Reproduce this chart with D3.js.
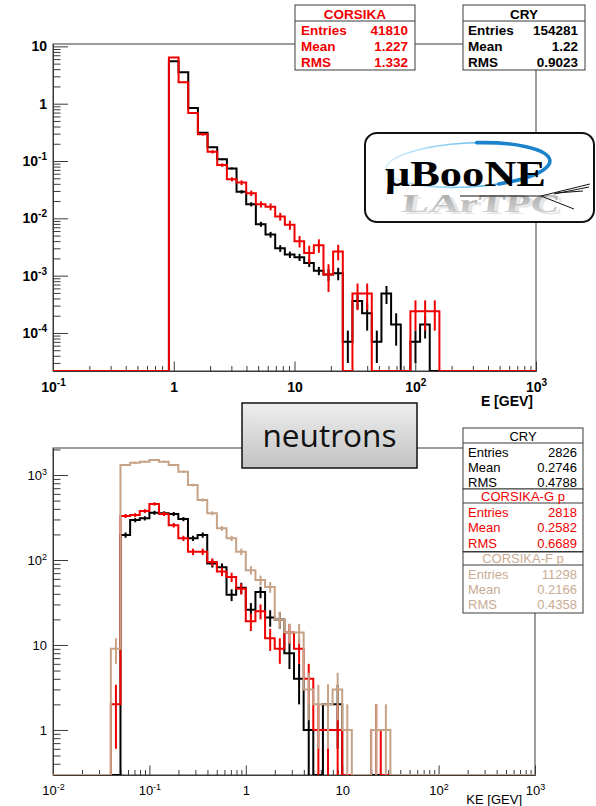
<!DOCTYPE html>
<html>
<head>
<meta charset="utf-8">
<script src="https://cdn.jsdelivr.net/npm/d3@7"></script>
<style>
  html, body { margin: 0; padding: 0; background: #fff; }
  svg { display: block; }
</style>
</head>
<body>
<svg id="chart" width="596" height="806"></svg>
<script>
// ---------------- data: muon energy (top panel) ----------------
// 50 log-spaced bins between 10^-1 and 10^3 GeV
const muonBins = [-1, 3, 50];
const muonCry = [
  0,0,0,0,0,0,0,0,0,0,0,0,
  5.5, 3.54, 0.84, 0.31, 0.174, 0.107, 0.074, 0.029, 0.0176, 0.0079,
  0.0052, 0.0030, 0.00233, 0.0021, 0.00167, 0.00122, 0.00105, 0.0011, 0.00007, 0.00036,
  0.00022, 0.00007, 0.00049, 0.00014, 0, 0.00007, 0.00014,
  0,0,0,0,0,0,0,0,0,0,0
];
const muonCryErr = [
  0,0,0,0,0,0,0,0,0,0,0,0,
  0.05, 0.04, 0.015, 0.007, 0.005, 0.004, 0.003, 0.002, 0.0015, 0.0008,
  0.0006, 0.0004, 0.0003, 0.0003, 0.00025, 0.0002, 0.00025, 0.00027, 0.00004, 0.0001,
  0.00011, 0.00004, 0.00017, 0.00008, 0, 0.00004, 0.00006,
  0,0,0,0,0,0,0,0,0,0,0
];
const muonCorsika = [
  0,0,0,0,0,0,0,0,0,0,0,0,
  6.4, 2.37, 0.687, 0.293, 0.145, 0.085, 0.048, 0.042, 0.0275, 0.0176,
  0.016, 0.0108, 0.0077, 0.0040, 0.00248, 0.0034, 0.00105, 0.00265, 0, 0.00049,
  0.00049, 0, 0, 0, 0, 0.00024, 0.00024, 0.00024,
  0,0,0,0,0,0,0,0,0,0
];
const muonCorsikaErr = [
  0,0,0,0,0,0,0,0,0,0,0,0,
  0.1, 0.06, 0.025, 0.015, 0.01, 0.006, 0.004, 0.004, 0.003, 0.0022,
  0.0022, 0.0017, 0.0014, 0.0009, 0.00085, 0.0009, 0.00053, 0.0008, 0, 0.00024,
  0.00024, 0, 0, 0, 0, 0.00013, 0.00013, 0.00013,
  0,0,0,0,0,0,0,0,0,0
];
const muonXTicks = [0.1, 1, 10, 100, 1000];
const muonXTickLabels = ["10^-1", "1", "10", "10^2", "10^3"];
const muonYTicks = [1e-4, 1e-3, 1e-2, 1e-1, 1, 10];
const muonYTickLabels = ["10^-4", "10^-3", "10^-2", "10^-1", "1", "10"];

// ---------------- data: neutron kinetic energy (bottom panel) ----------------
// 50 log-spaced bins between 10^-2 and 10^3 GeV
const neutronBins = [-2, 3, 50];
const neutronCry = [
  0,0,0,0,0,0,0,
  197, 295, 310, 360, 355, 348, 303, 180, 197, 91, 82, 39, 47, 26, 42, 21, 20, 8, 4, 1, 0, 2, 2,
  0,0,0,0,0,0,0,0,0,0,0,0,0,0,0,0,0,0,0,0
];
const neutronCryErr = [
  0,0,0,0,0,0,0,
  14, 17, 18, 19, 19, 19, 17, 13, 14, 9.5, 9, 6.2, 6.9, 5.1, 6.5, 4.6, 4.5, 2.8, 2, 1, 0, 1.4, 1.4,
  0,0,0,0,0,0,0,0,0,0,0,0,0,0,0,0,0,0,0,0
];
const neutronCorsikaG = [
  0,0,0,0,0,0,
  2, 330, 338, 377, 457, 348, 257, 180, 125, 125, 95, 73, 63, 46, 19, 25, 12, 9, 14, 9, 4, 1, 1, 1, 0, 0, 0, 1,
  0,0,0,0,0,0,0,0,0,0,0,0,0,0,0,0
];
const neutronCorsikaGErr = [
  0,0,0,0,0,0,
  1.4, 18, 18, 19, 21, 19, 16, 13, 11, 11, 9.7, 8.5, 7.9, 6.8, 4.4, 5, 3.5, 3, 3.7, 3, 2, 1, 1, 1, 0, 0, 0, 1,
  0,0,0,0,0,0,0,0,0,0,0,0,0,0,0,0
];
const neutronCorsikaF = [
  0,0,0,0,0,0,
  9, 1312, 1396, 1435, 1500, 1435, 1312, 1093, 762, 508, 355, 236, 180, 125, 76, 58, 48, 20, 14, 14, 3, 2, 2, 3, 1, 0, 0, 1, 1,
  0,0,0,0,0,0,0,0,0,0,0,0,0,0,0
];
const neutronCorsikaFErr = [
  0,0,0,0,0,0,
  3, 36, 37, 38, 39, 38, 36, 33, 28, 22, 19, 15, 13, 11, 8.7, 7.6, 6.9, 4.5, 3.7, 3.7, 1.7, 1.4, 1.4, 1.7, 1, 0, 0, 1, 1,
  0,0,0,0,0,0,0,0,0,0,0,0,0,0,0
];
const neutronXTicks = [0.01, 0.1, 1, 10, 100, 1000];
const neutronXTickLabels = ["10^-2", "10^-1", "1", "10", "10^2", "10^3"];
const neutronYTicks = [1, 10, 100, 1000];
const neutronYTickLabels = ["1", "10", "10^2", "10^3"];

// ---------------- statistics boxes ----------------
const statLabels = ["Entries", "Mean", "RMS"];
const muonCorsikaStats = ["41810", "1.227", "1.332"];
const muonCryStats = ["154281", "1.22", "0.9023"];
const neutronCryStats = ["2826", "0.2746", "0.4788"];
const neutronCorsikaGStats = ["2818", "0.2582", "0.6689"];
const neutronCorsikaFStats = ["11298", "0.2166", "0.4358"];

// ---------------- styling ----------------
const SANS = "'Liberation Sans', Arial, Helvetica, sans-serif";
const RED = "#f00000";
const TAN = "#c6a286";
const TAN_TEXT = "#c9ab93";

const svg = d3.select("#chart");
const defs = svg.append("defs");

function binEdges(spec) {
  const [lo, hi, n] = spec;
  return d3.range(n + 1).map(i => Math.pow(10, lo + (hi - lo) * i / n));
}

function minorTicks(domain) {
  const out = [];
  const a = Math.floor(Math.log10(domain[0])), b = Math.ceil(Math.log10(domain[1]));
  for (let e = a; e <= b; e++) {
    for (let m = 2; m <= 9; m++) {
      const v = m * Math.pow(10, e);
      if (v > domain[0] && v < domain[1]) out.push(v);
    }
  }
  return out;
}

function setSupLabels(sel, labels, supSize, supShift) {
  sel.selectAll(".tick text").each(function (d, i) {
    const t = d3.select(this);
    const parts = labels[i].split("^");
    t.text(null);
    t.append("tspan").text(parts[0]);
    if (parts[1]) t.append("tspan").attr("dy", -supShift).attr("font-size", supSize).text(parts[1]);
  });
}

function panel(cfg) {
  const g = svg.append("g");
  const x = d3.scaleLog().domain(cfg.xDomain).range([cfg.left, cfg.right]);
  const y = d3.scaleLog().domain(cfg.yDomain).range([cfg.bottom, cfg.top]);
  const ymin = cfg.yDomain[0];

  const clipId = "clip-" + cfg.id;
  defs.append("clipPath").attr("id", clipId)
    .append("rect").attr("x", cfg.left).attr("y", cfg.top - 1)
    .attr("width", cfg.right - cfg.left + 1).attr("height", cfg.bottom - cfg.top + 1);

  // frame
  g.append("rect").attr("x", cfg.left).attr("y", cfg.top)
    .attr("width", cfg.right - cfg.left).attr("height", cfg.bottom - cfg.top)
    .attr("fill", "none").attr("stroke", "#3a3a3a").attr("stroke-width", 1);

  // y axis: major + minor ticks pointing into the frame
  const yMajor = g.append("g").attr("transform", `translate(${cfg.left},0)`)
    .call(d3.axisLeft(y).tickValues(cfg.yTicks).tickSizeInner(-15).tickSizeOuter(0)
      .tickPadding(cfg.yPad).tickFormat((d, i) => cfg.yLabels[i]));
  const yMinor = g.append("g").attr("transform", `translate(${cfg.left},0)`)
    .call(d3.axisLeft(y).tickValues(minorTicks(cfg.yDomain)).tickSizeInner(-7.5).tickSizeOuter(0).tickFormat(""));
  // x axis
  const xMajor = g.append("g").attr("transform", `translate(0,${cfg.bottom})`)
    .call(d3.axisBottom(x).tickValues(cfg.xTicks).tickSizeInner(-9.5).tickSizeOuter(0)
      .tickFormat((d, i) => cfg.xLabels[i]));
  const xMinor = g.append("g").attr("transform", `translate(0,${cfg.bottom})`)
    .call(d3.axisBottom(x).tickValues(minorTicks(cfg.xDomain)).tickSizeInner(-5).tickSizeOuter(0).tickFormat(""));

  [yMajor, yMinor, xMajor, xMinor].forEach(a => {
    a.select(".domain").attr("stroke", "#3a3a3a");
    a.selectAll(".tick line").attr("stroke", "#3a3a3a").attr("stroke-width", 1);
    a.selectAll("text").attr("font-family", SANS).attr("font-size", cfg.labelSize)
      .attr("font-weight", cfg.labelWeight).attr("fill", "#000");
  });
  xMajor.selectAll(".tick text").attr("y", cfg.xLabelDrop).attr("dy", null);
  setSupLabels(yMajor, cfg.yLabels, cfg.supSize, cfg.supShift);
  setSupLabels(xMajor, cfg.xLabels, cfg.supSize, cfg.supShift);

  // axis title, tucked just under the last decade label
  g.append("text").attr("x", cfg.titleX).attr("y", cfg.titleY).attr("text-anchor", "end")
    .attr("font-family", SANS).attr("font-size", cfg.labelSize).attr("font-weight", cfg.labelWeight)
    .text(cfg.xTitle);

  // histograms
  const plot = g.append("g").attr("clip-path", `url(#${clipId})`);
  const line = d3.line().x(d => x(d[0])).y(d => y(Math.max(d[1], ymin))).curve(d3.curveStepAfter);
  cfg.series.forEach(s => {
    const edges = binEdges(cfg.bins);
    const pts = s.values.map((v, i) => [edges[i], v]);
    pts.push([edges[edges.length - 1], s.values[s.values.length - 1]]);
    plot.append("path").attr("d", line(pts)).attr("fill", "none")
      .attr("stroke", s.color).attr("stroke-width", s.width);
    const bars = s.values.map((v, i) => ({ v, e: s.errors[i], c: (edges[i] + edges[i + 1]) / 2 }))
      .filter(d => d.v > 0 && d.e > 0);
    plot.selectAll(null).data(bars).join("line")
      .attr("x1", d => x(d.c)).attr("x2", d => x(d.c))
      .attr("y1", d => y(Math.max(d.v - d.e, ymin)))
      .attr("y2", d => y(d.v + d.e))
      .attr("stroke", s.color).attr("stroke-width", s.width);
  });
  return g;
}

// ---------------- top panel: muon energy ----------------
panel({
  id: "muon", left: 53, right: 536, top: 44, bottom: 371,
  xDomain: [0.1, 1000], yDomain: [2.17e-5, 11],
  bins: muonBins,
  xTicks: muonXTicks, xLabels: muonXTickLabels,
  yTicks: muonYTicks, yLabels: muonYTickLabels,
  labelSize: 14, labelWeight: "bold", supSize: 10, supShift: 6, yPad: 6, xLabelDrop: 21,
  xTitle: "E [GEV]", titleX: 533, titleY: 406,
  series: [
    { values: muonCry, errors: muonCryErr, color: "#000", width: 2 },
    { values: muonCorsika, errors: muonCorsikaErr, color: RED, width: 2 }
  ]
});

// ---------------- bottom panel: neutron kinetic energy ----------------
panel({
  id: "neutron", left: 53, right: 535, top: 448, bottom: 775,
  xDomain: [0.01, 1000], yDomain: [0.295, 2080],
  bins: neutronBins,
  xTicks: neutronXTicks, xLabels: neutronXTickLabels,
  yTicks: neutronYTicks, yLabels: neutronYTickLabels,
  labelSize: 13, labelWeight: "normal", supSize: 9, supShift: 5, yPad: 6, xLabelDrop: 20,
  xTitle: "KE [GEV]", titleX: 522, titleY: 804,
  series: [
    { values: neutronCry, errors: neutronCryErr, color: "#000", width: 2 },
    { values: neutronCorsikaG, errors: neutronCorsikaGErr, color: RED, width: 2 },
    { values: neutronCorsikaF, errors: neutronCorsikaFErr, color: TAN, width: 2 }
  ]
});

// ---------------- statistics boxes ----------------
function statBlock(g, o) {
  const h = o.titleH + o.rowH * 3 + o.extra;
  g.append("rect").attr("x", o.x).attr("y", o.y).attr("width", o.w).attr("height", h)
    .attr("fill", "#fff").attr("stroke", "#3a3a3a").attr("stroke-width", 1);
  g.append("line").attr("x1", o.x).attr("x2", o.x + o.w)
    .attr("y1", o.y + o.titleH).attr("y2", o.y + o.titleH).attr("stroke", "#3a3a3a");
  const txt = (x, y, s, anchor) => g.append("text").attr("x", x).attr("y", y)
    .attr("text-anchor", anchor).attr("font-family", SANS).attr("font-size", o.size)
    .attr("font-weight", o.weight).attr("fill", o.color).text(s);
  txt(o.x + o.w / 2, o.y + o.titleBase, o.title, "middle");
  statLabels.forEach((lab, i) => {
    const by = o.y + o.titleH + o.firstBase + i * o.rowH;
    txt(o.x + o.padL, by, lab, "start");
    txt(o.x + o.w - o.padR, by, o.values[i], "end");
  });
  return h;
}

const boxes = svg.append("g");
statBlock(boxes, { x: 295, y: 5, w: 120, titleH: 16, rowH: 16, extra: 1, title: "CORSIKA",
  values: muonCorsikaStats, color: RED, size: 13.5, weight: "bold",
  titleBase: 13.5, firstBase: 14, padL: 6, padR: 7 });
statBlock(boxes, { x: 463, y: 5, w: 122, titleH: 16, rowH: 16, extra: 1, title: "CRY",
  values: muonCryStats, color: "#000", size: 13.5, weight: "bold",
  titleBase: 13.5, firstBase: 14, padL: 5, padR: 7 });

statBlock(boxes, { x: 463, y: 428, w: 120, titleH: 15, rowH: 15, extra: 1, title: "CRY",
  values: neutronCryStats, color: "#000", size: 13, weight: "normal",
  titleBase: 12.5, firstBase: 13.5, padL: 5, padR: 6 });
statBlock(boxes, { x: 463, y: 489, w: 120, titleH: 14, rowH: 15.5, extra: 2, title: "CORSIKA-G p",
  values: neutronCorsikaGStats, color: RED, size: 13, weight: "normal",
  titleBase: 12, firstBase: 13.5, padL: 5, padR: 6 });
statBlock(boxes, { x: 463, y: 552, w: 120, titleH: 13, rowH: 15, extra: 3, title: "CORSIKA-F p",
  values: neutronCorsikaFStats, color: TAN_TEXT, size: 13, weight: "normal",
  titleBase: 11, firstBase: 13.5, padL: 5, padR: 6 });

// ---------------- experiment logo ----------------
const logo = svg.append("g");
logo.append("rect").attr("x", 365).attr("y", 133).attr("width", 229).attr("height", 89)
  .attr("rx", 12).attr("fill", "#fff").attr("stroke", "#111").attr("stroke-width", 2);

const swoosh = defs.append("linearGradient").attr("id", "swoosh")
  .attr("x1", "0%").attr("x2", "100%").attr("y1", "0%").attr("y2", "0%");
swoosh.append("stop").attr("offset", "0%").attr("stop-color", "#d4eefb");
swoosh.append("stop").attr("offset", "55%").attr("stop-color", "#6cc0ee");
swoosh.append("stop").attr("offset", "100%").attr("stop-color", "#1378c4");

const grayText = defs.append("linearGradient").attr("id", "grayText")
  .attr("x1", "0%").attr("x2", "0%").attr("y1", "0%").attr("y2", "100%");
grayText.append("stop").attr("offset", "0%").attr("stop-color", "#9a9a9a");
grayText.append("stop").attr("offset", "100%").attr("stop-color", "#d8d8d8");

// detector name, drawn as a receding grey shadow under the experiment name
const serif = "'Liberation Serif', 'DejaVu Serif', serif";
logo.append("text").attr("transform", "translate(405,214) skewX(-8) scale(1,0.8)")
  .attr("font-family", serif).attr("font-weight", "bold")
  .attr("font-size", 32).attr("textLength", 158).attr("lengthAdjust", "spacingAndGlyphs")
  .attr("fill", "#e6e6e6").text("LArTPC");
logo.append("text").attr("transform", "translate(401,212) skewX(-8) scale(1,0.8)")
  .attr("font-family", serif).attr("font-weight", "bold")
  .attr("font-size", 32).attr("textLength", 158).attr("lengthAdjust", "spacingAndGlyphs")
  .attr("fill", "url(#grayText)").attr("opacity", 0.9).text("LArTPC");

// ellipse swoosh
const ecx = 468, ecy = 165, erx = 82, ery = 22;
logo.append("ellipse").attr("cx", ecx).attr("cy", ecy).attr("rx", erx).attr("ry", ery)
  .attr("transform", `rotate(-3 ${ecx} ${ecy})`)
  .attr("fill", "none").attr("stroke", "url(#swoosh)").attr("stroke-width", 1.6);
function ePt(t) { return [ecx + erx * Math.cos(t), ecy + ery * Math.sin(t)]; }
const a0 = ePt(-1.45), a1 = ePt(1.2);
logo.append("path")
  .attr("d", `M${a0[0]},${a0[1]} A${erx},${ery} 0 0 1 ${a1[0]},${a1[1]}`)
  .attr("transform", `rotate(-3 ${ecx} ${ecy})`)
  .attr("fill", "none").attr("stroke", "#1a83cc").attr("stroke-width", 3.6)
  .attr("stroke-linecap", "round");

logo.append("text").attr("x", 385).attr("y", 186)
  .attr("font-family", serif).attr("font-weight", "bold")
  .attr("font-size", 35).attr("textLength", 161).attr("lengthAdjust", "spacingAndGlyphs")
  .attr("fill", "#000").text("μBooNE");

// particle tracks
[[460, 196, 541, 196], [541, 196, 574, 209], [541, 196, 590, 184],
 [554, 194, 589, 187], [556, 193, 583, 191]].forEach(l => {
  logo.append("line").attr("x1", l[0]).attr("y1", l[1]).attr("x2", l[2]).attr("y2", l[3])
    .attr("stroke", "#111").attr("stroke-width", 1);
});

// ---------------- particle label ----------------
const lg = defs.append("linearGradient").attr("id", "labelFill")
  .attr("x1", "0%").attr("x2", "0%").attr("y1", "0%").attr("y2", "100%");
lg.append("stop").attr("offset", "0%").attr("stop-color", "#eeeeee");
lg.append("stop").attr("offset", "100%").attr("stop-color", "#c3c3c3");
svg.append("rect").attr("x", 242).attr("y", 403).attr("width", 175).attr("height", 65)
  .attr("fill", "url(#labelFill)").attr("stroke", "#111").attr("stroke-width", 1.5);
svg.append("text").attr("x", 329.5).attr("y", 447).attr("text-anchor", "middle")
  .attr("font-family", "'Open Sans', 'Noto Sans', sans-serif").attr("font-size", 31)
  .attr("textLength", 134).attr("lengthAdjust", "spacingAndGlyphs")
  .attr("fill", "#111").text("neutrons");
</script>
</body>
</html>
